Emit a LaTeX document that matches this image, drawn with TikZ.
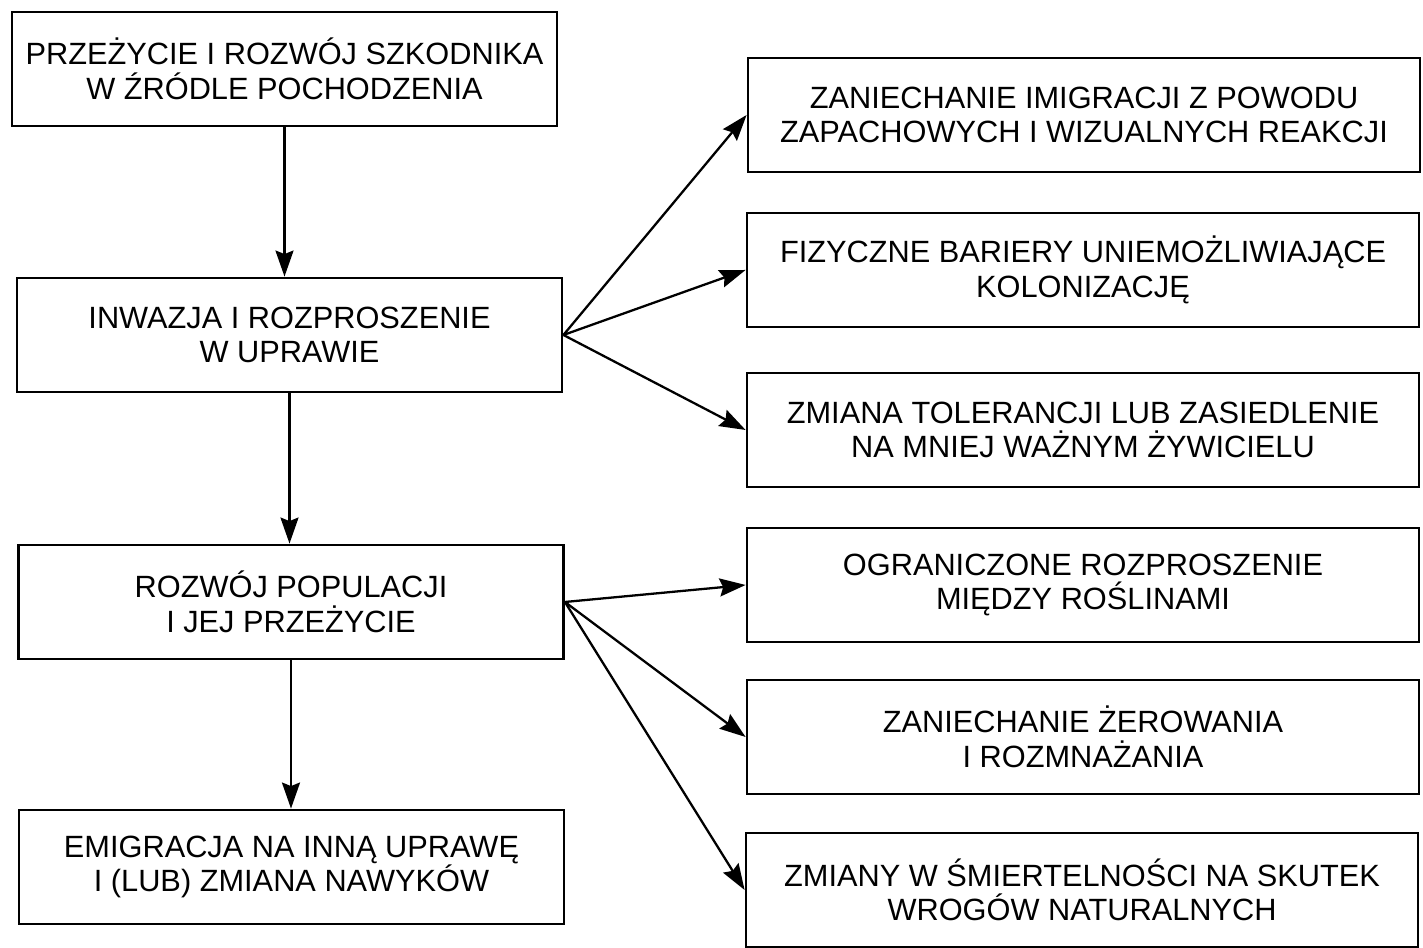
\documentclass[tikz,border=0pt]{standalone}
\usepackage{fontspec}
\setmainfont{Liberation Sans}
\usepackage{tikz}
\usetikzlibrary{arrows.meta}

\tikzset{
    box/.style={draw, line width=0.8pt, align=center, inner sep=0pt,
        minimum height=1.14cm, font=\fontsize{8.75}{9.8}\selectfont},
    leftbox/.style={box, minimum width=5.45cm},
    rightbox/.style={box, minimum width=6.72cm},
    link/.style={-{Stealth[length=0.26cm, width=0.18cm, inset=0.035cm]}, line width=0.65pt}
}

\begin{document}
\begin{tikzpicture}
            \useasboundingbox (0,0) rectangle (14.23,9.48);
            % Left column
            \node[leftbox] (surv) at (2.845,8.79) {PRZEŻYCIE I ROZWÓJ SZKODNIKA\\W ŹRÓDLE POCHODZENIA};
            \node[leftbox] (inv) at (2.895,6.13) {INWAZJA I ROZPROSZENIE\\W UPRAWIE};
            \node[leftbox] (pop) at (2.91,3.46) {ROZWÓJ POPULACJI\\I JEJ PRZEŻYCIE};
            \node[leftbox] (emig) at (2.915,0.81) {EMIGRACJA NA INNĄ UPRAWĘ\\I (LUB) ZMIANA NAWYKÓW};

            % Right column
            \node[rightbox] (r1) at (10.84,8.33) {ZANIECHANIE IMIGRACJI Z POWODU\\ZAPACHOWYCH I WIZUALNYCH REAKCJI};
            \node[rightbox] (r2) at (10.83,6.78) {FIZYCZNE BARIERY UNIEMOŻLIWIAJĄCE\\KOLONIZACJĘ};
            \node[rightbox] (r3) at (10.83,5.18) {ZMIANA TOLERANCJI LUB ZASIEDLENIE\\NA MNIEJ WAŻNYM ŻYWICIELU};
            \node[rightbox] (r4) at (10.83,3.63) {OGRANICZONE ROZPROSZENIE\\MIĘDZY ROŚLINAMI};
            \node[rightbox] (r5) at (10.83,2.11) {ZANIECHANIE ŻEROWANIA\\I ROZMNAŻANIA};
            \node[rightbox] (r6) at (10.82,0.58) {ZMIANY W ŚMIERTELNOŚCI NA SKUTEK\\WROGÓW NATURALNYCH};

            % Down arrows
            \draw[link] (surv.south) -- (surv.south |- inv.north);
            \draw[link] (inv.south) -- (inv.south |- pop.north);
            \draw[link] (pop.south) -- (pop.south |- emig.north);

            % Fan arrows to the right
            \foreach \t in {r1,r2,r3}
            {
                \draw[link] (inv.east) -- (\t.west);
            }
            \foreach \t in {r4,r5,r6}
            {
                \draw[link] (pop.east) -- (\t.west);
            }
\end{tikzpicture}
\end{document}
